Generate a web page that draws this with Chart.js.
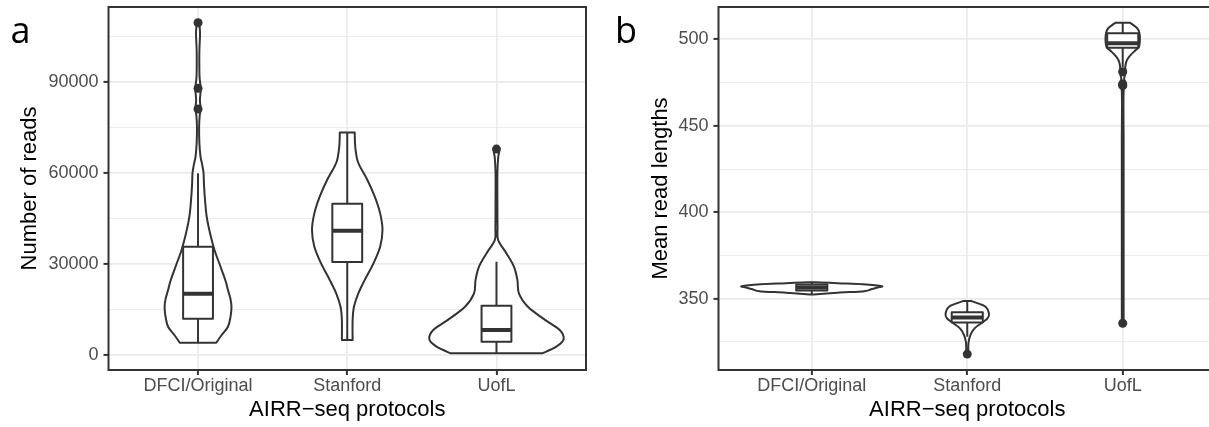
<!DOCTYPE html>
<html>
<head>
<meta charset="utf-8">
<script src="https://cdn.jsdelivr.net/npm/chart.js@4.4.1/dist/chart.umd.min.js"></script>
<style>
  html, body { margin: 0; padding: 0; background: #fff; overflow: hidden; }
  body { width: 1209px; height: 427px; position: relative; }
  .panel { position: absolute; top: 0; height: 427px; }
  #panelA { left: 0; width: 604px; }
  #panelB { left: 604px; width: 620px; }
</style>
</head>
<body>
<div class="panel" id="panelA"><canvas id="readsChart" width="604" height="427"></canvas></div>
<div class="panel" id="panelB"><canvas id="lengthChart" width="620" height="427"></canvas></div>
<script>
const CATEGORIES = ["DFCI/Original", "Stanford", "UofL"];

// Panel a: number of reads
const READS_TICKS = [0, 30000, 60000, 90000];
const READS_LOWER = [4055, 4950, 560];
const READS_Q1 = [11970, 30700, 4390];
const READS_MEDIAN = [20200, 41000, 8240];
const READS_Q3 = [35700, 49900, 16250];
const READS_UPPER = [59900, 73400, 30760];
const READS_OUTLIERS = [[81100, 87930, 109560], [], [67900]];
// violin outline: levels and relative density (1 = widest violin)
const READS_LEVELS = [
  [4055, 6600, 9330, 12500, 15900, 18500, 21400, 24000, 26900, 30500, 34600, 40200, 45600, 51100, 56000, 60000, 63000, 65400, 70000, 75000, 79000, 81100, 84000, 87900, 92000, 100000, 106000, 109560],
  [4950, 11500, 15900, 20300, 24700, 30200, 35700, 41200, 46700, 52200, 57700, 62100, 64300, 67500, 70000, 73400],
  [560, 2740, 5170, 8240, 11500, 15900, 20300, 24700, 29100, 33500, 37900, 42000, 50000, 60000, 65000, 67000, 67900]
];
const READS_DENSITY = [
  [0.272, 0.352, 0.446, 0.483, 0.498, 0.483, 0.446, 0.416, 0.371, 0.312, 0.245, 0.178, 0.129, 0.104, 0.089, 0.082, 0.06, 0.037, 0.02, 0.016, 0.025, 0.04, 0.028, 0.04, 0.022, 0.02, 0.03, 0.018],
  [0.08, 0.08, 0.10, 0.165, 0.26, 0.39, 0.49, 0.525, 0.49, 0.41, 0.30, 0.19, 0.15, 0.125, 0.115, 0.111],
  [0.683, 0.892, 1.0, 0.942, 0.728, 0.468, 0.334, 0.312, 0.26, 0.149, 0.025, 0.016, 0.014, 0.014, 0.025, 0.04, 0.018]
];

// Panel b: mean read lengths
const LENGTH_TICKS = [350, 400, 450, 500];
const LENGTH_LOWER = [352.6, 328, 484];
const LENGTH_Q1 = [354.8, 336.3, 495.2];
const LENGTH_MEDIAN = [356.5, 339.2, 497.7];
const LENGTH_Q3 = [358.2, 342.2, 503.5];
const LENGTH_UPPER = [359.6, 348.7, 509.6];
const LENGTH_OUTLIERS = [[], [318], [481.2, 474.2, 473.2, 335.8]];
const LENGTH_LEVELS = [
  [352.5, 353.5, 354.4, 355.5, 356.5, 357.3, 358.4, 359.0, 359.6],
  [318, 322, 325.2, 329, 332.9, 335.8, 338.7, 341.6, 345.4, 347.5, 348.7],
  [335.8, 360, 400, 440, 470, 473.5, 477, 481.2, 484.1, 488, 490.9, 493.8, 495.7, 499.6, 503.5, 506.4, 509.6]
];
const LENGTH_DENSITY = [
  [0.03, 0.37, 0.75, 0.85, 0.94, 1.0, 0.73, 0.37, 0.03],
  [0.013, 0.015, 0.02, 0.045, 0.104, 0.2, 0.29, 0.31, 0.262, 0.143, 0.057],
  [0.013, 0.013, 0.013, 0.013, 0.013, 0.05, 0.02, 0.043, 0.036, 0.06, 0.112, 0.186, 0.233, 0.246, 0.239, 0.207, 0.107]
];

const INK = "#333333";
const GRID = "#EBEBEB";
const HALF_VIOLIN = 0.45;
const HALF_BOX = 0.1;
const LINE = 2;
const FONT = "'Liberation Sans', Arial, Helvetica, sans-serif";

function curveThrough(ctx, pts) {
  for (let i = 0; i < pts.length - 1; i++) {
    const p0 = pts[Math.max(i - 1, 0)], p1 = pts[i], p2 = pts[i + 1];
    const p3 = pts[Math.min(i + 2, pts.length - 1)];
    ctx.bezierCurveTo(
      p1[0] + (p2[0] - p0[0]) / 6, p1[1] + (p2[1] - p0[1]) / 6,
      p2[0] - (p3[0] - p1[0]) / 6, p2[1] - (p3[1] - p1[1]) / 6,
      p2[0], p2[1]
    );
  }
}

// violins + boxplots, drawn under the outlier points
function boxViolin(d) {
  return {
    id: "boxViolin",
    beforeDatasetsDraw(chart) {
      const { ctx, chartArea, scales: { x, y } } = chart;
      ctx.save();
      ctx.beginPath();
      ctx.rect(chartArea.left, chartArea.top, chartArea.right - chartArea.left, chartArea.bottom - chartArea.top);
      ctx.clip();
      ctx.strokeStyle = INK;
      ctx.lineJoin = "round";

      d.levels.forEach((lv, i) => {
        const c = i + 1;
        const dens = d.density[i];
        const right = lv.map((v, k) => [x.getPixelForValue(c + dens[k] * HALF_VIOLIN), y.getPixelForValue(v)]);
        const left = lv.map((v, k) => [x.getPixelForValue(c - dens[k] * HALF_VIOLIN), y.getPixelForValue(v)]).reverse();
        ctx.beginPath();
        ctx.moveTo(left[left.length - 1][0], left[left.length - 1][1]);
        ctx.lineTo(right[0][0], right[0][1]);
        curveThrough(ctx, right);
        ctx.lineTo(left[0][0], left[0][1]);
        curveThrough(ctx, left);
        ctx.closePath();
        ctx.fillStyle = "#ffffff";
        ctx.fill();
        ctx.lineWidth = LINE;
        ctx.stroke();

        // box
        const cx = x.getPixelForValue(c);
        const bl = x.getPixelForValue(c - HALF_BOX);
        const br = x.getPixelForValue(c + HALF_BOX);
        const yLo = y.getPixelForValue(d.lower[i]);
        const yQ1 = y.getPixelForValue(d.q1[i]);
        const yMed = y.getPixelForValue(d.median[i]);
        const yQ3 = y.getPixelForValue(d.q3[i]);
        const yHi = y.getPixelForValue(d.upper[i]);
        ctx.lineWidth = LINE;
        ctx.beginPath();
        ctx.moveTo(cx, yHi); ctx.lineTo(cx, yQ3);
        ctx.moveTo(cx, yQ1); ctx.lineTo(cx, yLo);
        ctx.stroke();
        ctx.fillStyle = "#ffffff";
        ctx.fillRect(bl, yQ3, br - bl, yQ1 - yQ3);
        ctx.strokeRect(bl, yQ3, br - bl, yQ1 - yQ3);
        ctx.lineWidth = LINE * 2;
        ctx.beginPath();
        ctx.moveTo(bl, yMed); ctx.lineTo(br, yMed);
        ctx.stroke();
      });
      ctx.restore();
    },
    afterDraw(chart) {
      const { ctx, chartArea } = chart;
      ctx.save();
      ctx.strokeStyle = INK;
      ctx.lineWidth = LINE;
      ctx.strokeRect(chartArea.left, chartArea.top, chartArea.right - chartArea.left, chartArea.bottom - chartArea.top);
      ctx.fillStyle = "#000";
      ctx.font = "36px 'Open Sans', 'Noto Sans', sans-serif";
      ctx.textBaseline = "alphabetic";
      ctx.fillText(d.tag, d.tagX, 43);
      ctx.restore();
    }
  };
}

function makePanel(id, d) {
  const points = [];
  d.outliers.forEach((list, i) => list.forEach((v) => points.push({ x: i + 1, y: v })));
  const isMajor = (c) => c.tick && d.ticks.includes(c.tick.value);

  // major ticks from the labels, minor grid lines half way between them
  const step = d.ticks[1] - d.ticks[0];
  const gridValues = [];
  for (let v = d.ticks[0] - step / 2; v < d.max; v += step / 2) {
    if (v > d.min) gridValues.push(v);
  }

  return new Chart(document.getElementById(id), {
    type: "scatter",
    data: {
      datasets: [{
        data: points,
        pointRadius: 4.5,
        pointHoverRadius: 4.5,
        backgroundColor: INK,
        borderWidth: 0
      }]
    },
    options: {
      responsive: false,
      animation: false,
      events: [],
      layout: { padding: { top: 7, right: d.padRight, left: 0, bottom: 0 } },
      plugins: { legend: { display: false }, tooltip: { enabled: false } },
      scales: {
        x: {
          type: "linear",
          min: 0.4,
          max: 3.6,
          afterBuildTicks: (s) => { s.ticks = [1, 2, 3].map((v) => ({ value: v })); },
          afterFit: (s) => { s.height = 57; s.paddingLeft = 0; s.paddingRight = 0; },
          border: { display: false },
          grid: { color: GRID, lineWidth: 1.8, tickColor: INK, tickWidth: LINE, tickLength: 5 },
          ticks: {
            autoSkip: false,
            maxRotation: 0,
            padding: 0,
            color: "#4D4D4D",
            font: { family: FONT, size: 18 },
            callback: (v) => CATEGORIES[v - 1]
          },
          title: {
            display: true,
            text: "AIRR\u2212seq protocols",
            color: "#000",
            font: { family: FONT, size: 22 },
            padding: { top: 0, bottom: 4 }
          }
        },
        y: {
          min: d.min,
          max: d.max,
          afterBuildTicks: (s) => { s.ticks = gridValues.map((v) => ({ value: v })); },
          afterFit: (s) => { s.width = d.axisWidth; s.paddingTop = 0; s.paddingBottom = 0; },
          border: { display: false },
          grid: {
            color: GRID,
            lineWidth: (c) => (isMajor(c) ? 1.8 : 0.9),
            tickColor: (c) => (isMajor(c) ? INK : "rgba(0,0,0,0)"),
            tickWidth: LINE,
            tickLength: 5
          },
          ticks: {
            autoSkip: false,
            padding: 5,
            color: "#4D4D4D",
            font: { family: FONT, size: 18 },
            callback: (v) => (d.ticks.includes(v) ? String(v) : "")
          },
          title: {
            display: true,
            text: d.title,
            color: "#000",
            font: { family: FONT, size: 22 },
            padding: { top: d.titlePad, bottom: 0 }
          }
        }
      }
    },
    plugins: [boxViolin(d)]
  });
}

makePanel("readsChart", {
  tag: "a", tagX: 10.5, title: "Number of reads",
  min: -4946, max: 114740, ticks: READS_TICKS,
  axisWidth: 108.5, padRight: 18, titlePad: 16.4,
  lower: READS_LOWER, q1: READS_Q1, median: READS_MEDIAN, q3: READS_Q3, upper: READS_UPPER,
  outliers: READS_OUTLIERS, levels: READS_LEVELS, density: READS_DENSITY
});

makePanel("lengthChart", {
  tag: "b", tagX: 11, title: "Mean read lengths",
  min: 308.8, max: 518.7, ticks: LENGTH_TICKS,
  axisWidth: 114.5, padRight: 8, titlePad: 43.4,
  lower: LENGTH_LOWER, q1: LENGTH_Q1, median: LENGTH_MEDIAN, q3: LENGTH_Q3, upper: LENGTH_UPPER,
  outliers: LENGTH_OUTLIERS, levels: LENGTH_LEVELS, density: LENGTH_DENSITY
});
</script>
</body>
</html>
